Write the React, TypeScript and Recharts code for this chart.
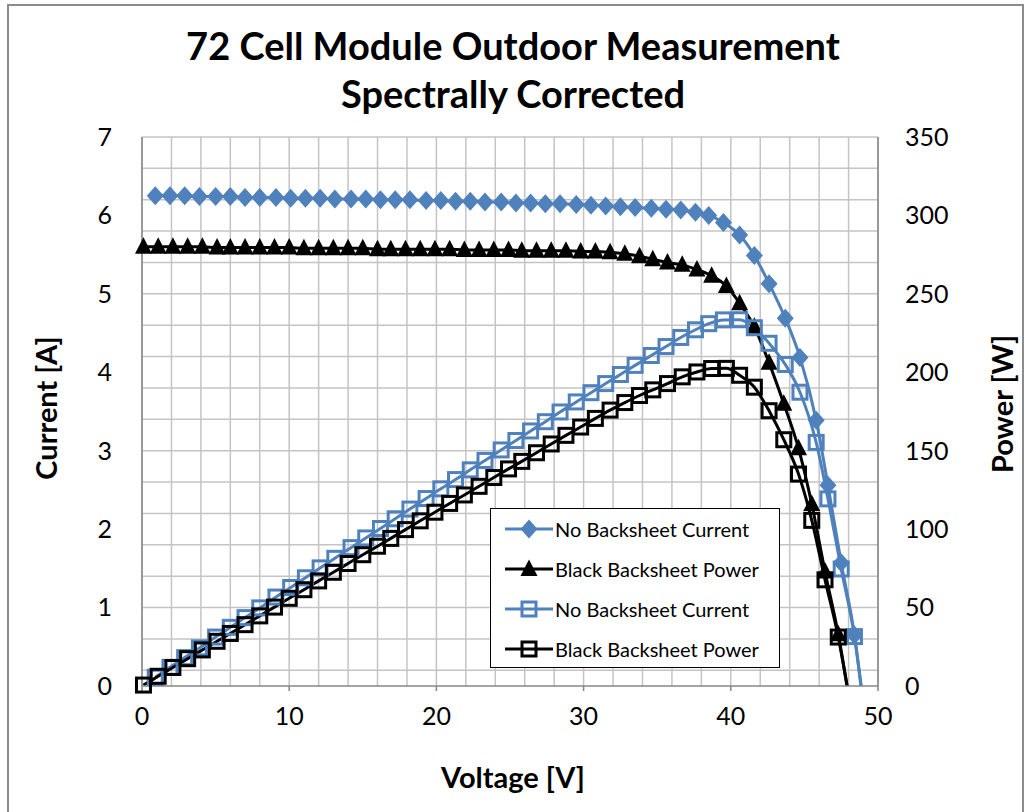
import React from 'react';
import { LineChart, Line, XAxis, YAxis, CartesianGrid, Legend } from 'recharts';

const BLUE = '#4F81BD';
const FONT = 'Lato, "Open Sans", sans-serif';

// No backsheet module (blue series)
const noBsVoltage = [
  0.9, 1.9, 2.9, 3.9, 5.0, 6.0, 7.0, 8.0, 9.1, 10.1,
  11.1, 12.1, 13.1, 14.2, 15.2, 16.2, 17.2, 18.2, 19.3, 20.3,
  21.3, 22.3, 23.3, 24.4, 25.4, 26.4, 27.4, 28.4, 29.5, 30.5,
  31.5, 32.5, 33.5, 34.6, 35.6, 36.6, 37.6, 38.5, 39.5, 40.6,
  41.6, 42.6, 43.7, 44.7, 45.8, 46.6, 47.5, 48.4, 48.85,
];
const noBsCurrent = [
  6.25, 6.25, 6.25, 6.24, 6.24, 6.24, 6.23, 6.23, 6.23, 6.22,
  6.22, 6.22, 6.21, 6.21, 6.21, 6.2, 6.2, 6.2, 6.19, 6.19,
  6.18, 6.18, 6.17, 6.17, 6.16, 6.16, 6.15, 6.15, 6.14, 6.13,
  6.12, 6.11, 6.1, 6.09, 6.08, 6.07, 6.04, 6.0, 5.91, 5.75,
  5.49, 5.13, 4.69, 4.19, 3.39, 2.56, 1.57, 0.65, 0,
];
const noBsPower = [
  5.6, 11.9, 18.1, 24.3, 31.2, 37.4, 43.6, 49.8, 56.7, 62.8,
  69.0, 75.3, 81.4, 88.2, 94.4, 100.4, 106.6, 112.8, 119.5, 125.7,
  131.6, 137.8, 143.8, 150.5, 156.5, 162.6, 168.5, 174.7, 181.1, 187.0,
  192.8, 198.6, 204.4, 210.7, 216.4, 222.2, 227.1, 231.0, 233.4, 233.5,
  228.4, 218.5, 205.0, 187.3, 155.3, 119.3, 74.6, 31.5, 0,
];

// black backsheet module (black series)
const blackVoltage = [
  0.1, 1.1, 2.1, 3.1, 4.1, 5.1, 6.0, 7.0, 8.0, 9.0,
  10.0, 11.0, 12.0, 13.0, 14.0, 15.0, 16.0, 16.9, 17.9, 18.9,
  19.9, 20.9, 21.9, 22.9, 23.9, 24.9, 25.8, 26.8, 27.8, 28.8,
  29.8, 30.8, 31.8, 32.8, 33.8, 34.7, 35.7, 36.7, 37.7, 38.7,
  39.7, 40.6, 41.6, 42.6, 43.6, 44.6, 45.5, 46.4, 47.3, 47.9,
];
const blackCurrent = [
  5.6, 5.6, 5.6, 5.6, 5.6, 5.59, 5.59, 5.59, 5.59, 5.59,
  5.59, 5.58, 5.58, 5.58, 5.58, 5.58, 5.57, 5.57, 5.57, 5.57,
  5.57, 5.57, 5.56, 5.56, 5.56, 5.56, 5.55, 5.55, 5.55, 5.55,
  5.54, 5.54, 5.53, 5.51, 5.48, 5.44, 5.4, 5.37, 5.31, 5.23,
  5.1, 4.88, 4.58, 4.12, 3.6, 3.03, 2.32, 1.46, 0.66, 0,
];
const blackPower = [
  0.6, 6.2, 11.8, 17.4, 23.0, 28.5, 33.5, 39.1, 44.7, 50.3,
  55.9, 61.4, 67.0, 72.5, 78.1, 83.7, 89.1, 94.1, 99.7, 105.3,
  110.8, 116.4, 121.8, 127.3, 132.9, 138.4, 143.2, 148.7, 154.3, 159.8,
  165.1, 170.6, 175.9, 180.7, 185.2, 188.8, 192.8, 197.1, 200.2, 202.4,
  202.5, 198.1, 190.5, 175.5, 157.0, 135.1, 105.6, 67.7, 31.2, 0,
];

const voltageTicks = [0, 10, 20, 30, 40, 50];
const currentTicks = [0, 1, 2, 3, 4, 5, 6, 7];
const powerTicks = [0, 50, 100, 150, 200, 250, 300, 350];

const legendNames = ['No Backsheet Current', 'Black Backsheet Power', 'No Backsheet Current', 'Black Backsheet Power'];
const legendColors = [BLUE, '#000', BLUE, '#000'];
const legendMarkers = ['diamond', 'triangle', 'square', 'square'];

const noBsData = noBsVoltage.map((v, i) => ({ v, current: noBsCurrent[i], power: noBsPower[i] }));
const blackData = blackVoltage.map((v, i) => ({ v, current: blackCurrent[i], power: blackPower[i] }));

// grid every 2 V and every 0.2 A
const gridX = Array.from({ length: 26 }, (_, i) => i * 2);
const gridY = Array.from({ length: 36 }, (_, i) => Math.round(i * 2) / 10);

const markerShape = (kind: string, cx: number, cy: number, color: string) => {
  if (kind === 'diamond')
    return <path d={`M${cx},${cy - 9.5}L${cx + 8.5},${cy}L${cx},${cy + 9.5}L${cx - 8.5},${cy}Z`} fill={color} />;
  if (kind === 'triangle')
    return <path d={`M${cx},${cy - 9.5}L${cx + 8.5},${cy + 7}L${cx - 8.5},${cy + 7}Z`} fill={color} />;
  return <rect x={cx - 7} y={cy - 7} width={14} height={14} fill="none" stroke={color} strokeWidth={3} />;
};

const makeDot = (kind: string, color: string) => (p: any) => {
  const { cx, cy, value, index } = p;
  // the zero-crossing point carries no marker
  if (cx == null || cy == null || value <= 0) return <g key={`d-${index}`} />;
  return <g key={`d-${index}`}>{markerShape(kind, cx, cy, color)}</g>;
};

const LegendBox = () => (
  <div
    style={{
      width: 290,
      height: 160,
      border: '1.5px solid #000',
      background: '#fff',
      boxSizing: 'border-box',
      paddingLeft: 14,
    }}
  >
    {legendNames.map((name, i) => (
      <div key={i} style={{ display: 'flex', alignItems: 'center', height: 40 }}>
        <svg width={48} height={22}>
          <line x1={0} x2={48} y1={11} y2={11} stroke={legendColors[i]} strokeWidth={3} />
          {markerShape(legendMarkers[i], 24, 11, legendColors[i])}
        </svg>
        <span style={{ fontFamily: FONT, fontSize: 20, color: '#000', marginLeft: 2, whiteSpace: 'nowrap' }}>{name}</span>
      </div>
    ))}
  </div>
);

const tickStyle = { fontFamily: FONT, fontSize: 25, fill: '#000' };

export default function App() {
  return (
    <div
      style={{
        position: 'absolute',
        left: 0,
        top: 0,
        width: 1029,
        height: 812,
        overflow: 'hidden',
        background: '#fff',
      }}
    >
      <div
        style={{
          position: 'absolute',
          left: 7,
          top: 4,
          width: 1017,
          height: 830,
          border: '2px solid #8c8c8c',
          boxSizing: 'border-box',
        }}
      />
      <div
        style={{
          position: 'absolute',
          left: 0,
          width: 1026,
          top: 21,
          textAlign: 'center',
          fontFamily: FONT,
          fontWeight: 700,
          fontSize: 38,
          lineHeight: '48px',
          color: '#000',
        }}
      >
        72 Cell Module Outdoor Measurement
        <br />
        Spectrally Corrected
      </div>

      <LineChart width={1029} height={812} margin={{ top: 137, right: 71, bottom: 66, left: 22 }}>
        <CartesianGrid
          yAxisId="left"
          stroke="#C4C4C4"
          strokeWidth={1.5}
          verticalValues={gridX}
          horizontalValues={gridY}
        />
        <XAxis
          type="number"
          dataKey="v"
          domain={[0, 50]}
          ticks={voltageTicks}
          height={60}
          stroke="#868686"
          strokeWidth={1.5}
          tickSize={5}
          tickMargin={16}
          tick={tickStyle}
        />
        <YAxis
          yAxisId="left"
          domain={[0, 7]}
          ticks={currentTicks}
          width={120}
          stroke="#868686"
          strokeWidth={1.5}
          tickLine={false}
          tickSize={0}
          tickMargin={30}
          tick={tickStyle}
        />
        <YAxis
          yAxisId="right"
          orientation="right"
          domain={[0, 350]}
          ticks={powerTicks}
          width={80}
          stroke="#868686"
          strokeWidth={1.5}
          tickLine={false}
          tickSize={0}
          tickMargin={27}
          tick={{ ...tickStyle, textAnchor: 'start' }}
        />
        <Legend
          layout="vertical"
          align="center"
          verticalAlign="middle"
          content={() => <LegendBox />}
          wrapperStyle={{ left: 490, top: 508, width: 290, height: 160 }}
        />
        <Line
          data={noBsData}
          yAxisId="left"
          dataKey="current"
          name="No Backsheet Current"
          type="monotone"
          stroke={BLUE}
          strokeWidth={3}
          dot={makeDot('diamond', BLUE)}
          activeDot={false}
          isAnimationActive={false}
        />
        <Line
          data={blackData}
          yAxisId="left"
          dataKey="current"
          name="Black Backsheet Power"
          type="monotone"
          stroke="#000"
          strokeWidth={3}
          dot={makeDot('triangle', '#000')}
          activeDot={false}
          isAnimationActive={false}
        />
        <Line
          data={noBsData}
          yAxisId="right"
          dataKey="power"
          name="No Backsheet Current"
          type="monotone"
          stroke={BLUE}
          strokeWidth={3}
          dot={makeDot('square', BLUE)}
          activeDot={false}
          isAnimationActive={false}
        />
        <Line
          data={blackData}
          yAxisId="right"
          dataKey="power"
          name="Black Backsheet Power"
          type="monotone"
          stroke="#000"
          strokeWidth={3}
          dot={makeDot('square', '#000')}
          activeDot={false}
          isAnimationActive={false}
        />
      </LineChart>

      <div
        style={{
          position: 'absolute',
          left: 45,
          top: 408,
          transform: 'translate(-50%, -50%) rotate(-90deg)',
          fontFamily: FONT,
          fontWeight: 700,
          fontSize: 29,
          whiteSpace: 'nowrap',
          color: '#000',
        }}
      >
        Current [A]
      </div>
      <div
        style={{
          position: 'absolute',
          left: 1001,
          top: 404,
          transform: 'translate(-50%, -50%) rotate(-90deg)',
          fontFamily: FONT,
          fontWeight: 700,
          fontSize: 29,
          whiteSpace: 'nowrap',
          color: '#000',
        }}
      >
        Power [W]
      </div>
      <div
        style={{
          position: 'absolute',
          left: 513,
          top: 776,
          transform: 'translate(-50%, -50%)',
          fontFamily: FONT,
          fontWeight: 700,
          fontSize: 29,
          whiteSpace: 'nowrap',
          color: '#000',
        }}
      >
        Voltage [V]
      </div>
    </div>
  );
}
